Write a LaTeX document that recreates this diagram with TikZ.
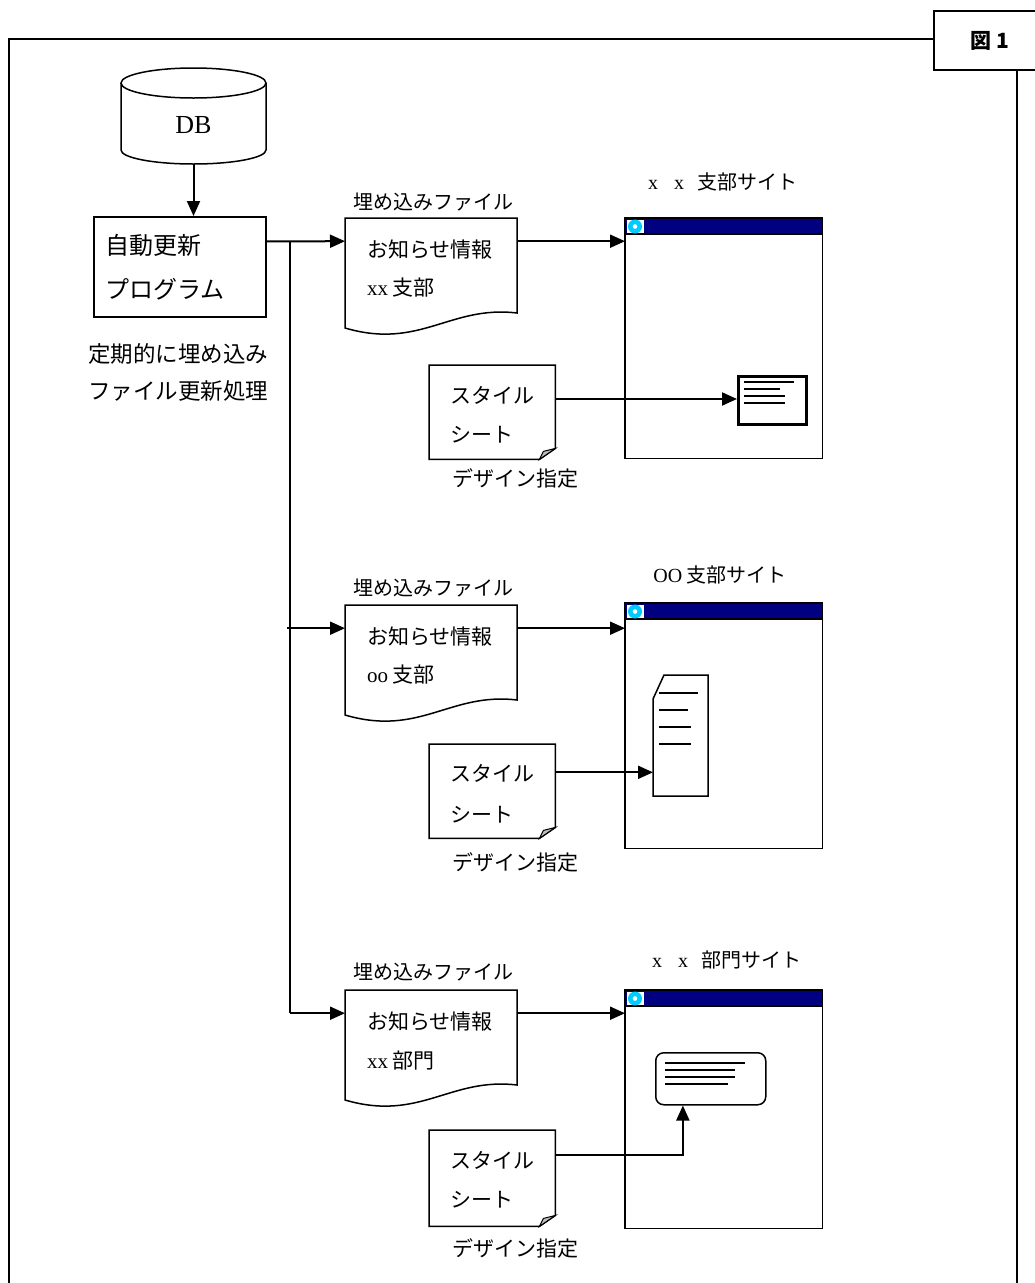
\documentclass[tikz,border=0pt]{standalone}
\usepackage{fontspec}
\setmainfont{Liberation Serif}
\newfontfamily\cjk{Noto Sans CJK JP}
\usetikzlibrary{calc,arrows.meta}
\definecolor{navy}{RGB}{0,0,128}
\definecolor{iconc}{RGB}{0,204,255}
\definecolor{foldc}{RGB}{190,190,190}

\newcommand\browserwin[3]{%
  \node[minimum width=197pt, minimum height=#3, inner sep=0pt, anchor=north west] (#1) at (625,#2) {};
  \fill[navy] (#1.north west) rectangle ($(#1.north east)+(0,-16)$);
  \draw[shp] (#1.north west) rectangle (#1.south east);
  \draw[shp] ($(#1.north west)+(0,-16)$) -- ($(#1.north east)+(0,-16)$);
  \fill[white] ($(#1.north west)+(1.5,-1.5)$) rectangle ($(#1.north west)+(18.5,-15)$);
  \fill[iconc] ($(#1.north west)+(10,-8.5)$) circle (7);
  \fill[white] ($(#1.north west)+(10,-8.5)$) circle (2.3);
}
\newcommand\sheetshape[3]{%
  \node[minimum width=126pt, minimum height=#3, inner sep=0pt, anchor=north west] (#1) at (429,#2) {};
  \draw[shp, fill=white] (#1.north west) -- (#1.north east) -- ($(#1.south east)+(0,11)$)
     -- ($(#1.south east)+(-16,0)$) -- (#1.south west) -- cycle;
  \draw[line width=1pt, fill=foldc] ($(#1.south east)+(0,11)$) -- ($(#1.south east)+(-12,8)$)
     -- ($(#1.south east)+(-16,0)$) -- cycle;
}
\newcommand\docshape[2]{%
  \node[minimum width=172pt, minimum height=46pt, inner sep=0pt, anchor=north west] (#1) at (345,#2) {};
  \draw[shp] (345,#2) -- (517,#2) -- (517,#2-95)
     .. controls (450,#2-87) and (420,#2-132) .. (345,#2-110) -- cycle;
}

\begin{document}
\begin{tikzpicture}[x=1pt,y=1pt,
  shp/.style={line width=1.5pt, draw=black},
  conn/.style={line width=2pt},
  arr/.style={conn, -{Triangle[length=15pt,width=13pt]}},
  jp/.style={font=\cjk\fontsize{21}{25}\selectfont, inner sep=0pt, anchor=west},
  jpc/.style={font=\cjk\fontsize{20}{24}\selectfont, inner sep=0pt},
  jpl/.style={font=\cjk\fontsize{24}{28}\selectfont, inner sep=0pt, anchor=west},
  jpm/.style={font=\cjk\fontsize{22.5}{26}\selectfont, inner sep=0pt, anchor=west},
  content/.style={line width=1.3pt}]
\useasboundingbox (0,0) rectangle (1035,-1283);

% outer frame and figure label
\node[draw, line width=1.5pt, minimum width=106pt, minimum height=59pt, inner sep=0pt, anchor=north west] (fig) at (933,-10) {};
\node[font=\cjk\bfseries\fontsize{21}{23}\selectfont, inner sep=0pt] (figtext) at (990,-41) {図 1};
\coordinate (frTL) at (9,-39);
\coordinate (frBL) at (9,-1283);
\coordinate (frBR) at (1017,-1283);
\draw[shp] (frBL) -- (frTL) -- (frTL -| fig.west);
\draw[shp] (fig.south -| frBR) -- (frBR);

% DB cylinder
\node[minimum width=145pt, minimum height=96pt, inner sep=0pt] (db) at (193.5,-116) {};
\draw[shp] (121,-83) -- (121,-150) arc[start angle=180, end angle=360, x radius=72.5, y radius=14] -- (266,-83);
\draw[shp] (193.5,-83) ellipse[x radius=72.5, y radius=15];
\node[font=\fontsize{26}{29}\selectfont, inner sep=0pt] (dbtext) at (193.5,-125) {DB};

% program box
\node[draw, line width=1.5pt, minimum width=172pt, minimum height=100pt, inner sep=0pt, anchor=north west] (prog) at (93,-216) {};
\node[jpl] (progt1) at (105,-245) {自動更新};
\node[jpl] (progt2) at (105,-289) {プログラム};
\node[jpm] (note1) at (88,-354) {定期的に埋め込み};
\node[jpm] (note2) at (88,-391) {ファイル更新処理};
\draw[arr] (db.south) -- (db.south |- prog.north);

% ---------- section 1 ----------
\node[jpc] (lab1) at (433,-202) {埋め込みファイル};
\docshape{d1}{-218}
\node[jp] (d1t1) at (367,-250) {お知らせ情報};
\node[jp] (d1t2) at (367,-288) {{\rmfamily xx} 支部};
\node[jpc] (blab1) at (720,-182) {{\rmfamily\makebox[20pt]{x}\hspace{6pt}\makebox[20pt]{x}}\hspace{8pt}支部サイト};
\browserwin{b1}{-218}{240pt}
\sheetshape{s1}{-365}{94pt}
\node[jp] (s1t1) at (450,-395) {スタイル};
\node[jp] (s1t2) at (450,-435) {シート};
\node[jp] (s1t3) at (452,-478) {デザイン指定};
\node[draw, line width=2.8pt, minimum width=68pt, minimum height=48pt, inner sep=0pt, anchor=north west] (i1) at (737,-375) {};
\draw[content] (744,-382) -- (794,-382);
\draw[content] (744,-389) -- (780,-389);
\draw[content] (744,-396) -- (785,-396);
\draw[content] (744,-403) -- (785,-403);

% ---------- section 2 ----------
\node[jpc] (lab2) at (433,-588) {埋め込みファイル};
\docshape{d2}{-605}
\node[jp] (d2t1) at (367,-637) {お知らせ情報};
\node[jp] (d2t2) at (367,-675) {{\rmfamily oo} 支部};
\node[jpc] (blab2) at (720,-575) {{\rmfamily OO} 支部サイト};
\browserwin{b2}{-603}{245pt}
\sheetshape{s2}{-744}{94pt}
\node[jp] (s2t1) at (450,-773) {スタイル};
\node[jp] (s2t2) at (450,-815) {シート};
\node[jp] (s2t3) at (452,-862) {デザイン指定};
\node[minimum width=55pt, minimum height=121pt, inner sep=0pt, anchor=north west] (i2) at (653,-675) {};
\draw[shp] (653,-699) -- (664,-675) -- (708,-675) -- (708,-796) -- (653,-796) -- cycle;
\draw[content] (659,-693) -- (698,-693);
\draw[content] (659,-710) -- (688,-710);
\draw[content] (659,-727) -- (691,-727);
\draw[content] (659,-744) -- (691,-744);

% ---------- section 3 ----------
\node[jpc] (lab3) at (433,-972) {埋め込みファイル};
\docshape{d3}{-990}
\node[jp] (d3t1) at (367,-1022) {お知らせ情報};
\node[jp] (d3t2) at (367,-1061) {{\rmfamily xx} 部門};
\node[jpc] (blab3) at (724,-960) {{\rmfamily\makebox[20pt]{x}\hspace{6pt}\makebox[20pt]{x}}\hspace{8pt}部門サイト};
\browserwin{b3}{-990}{238pt}
\sheetshape{s3}{-1130}{96pt}
\node[jp] (s3t1) at (450,-1160) {スタイル};
\node[jp] (s3t2) at (450,-1200) {シート};
\node[jp] (s3t3) at (452,-1248) {デザイン指定};
\node[draw, line width=1.5pt, rounded corners=8pt, minimum width=110pt, minimum height=52pt, inner sep=0pt, anchor=north west] (i3) at (655,-1052) {};
\draw[content] (665,-1063) -- (745,-1063);
\draw[content] (665,-1070) -- (735,-1070);
\draw[content] (665,-1077) -- (735,-1077);
\draw[content] (665,-1084) -- (728,-1084);

% ---------- connectors ----------
\coordinate (pout) at ($(prog.north east)!0.25!(prog.south east)$);
\coordinate (bus) at (290,-241);
\draw[arr] (pout) -- (d1.west);
\draw[conn] (bus) -- (bus |- d3.west);
\draw[arr] ($(bus |- d2.west)+(-3,0)$) -- (d2.west);
\draw[arr] (bus |- d3.west) -- (d3.west);
\draw[arr] (d1.east) -- (d1.east -| b1.west);
\draw[arr] (d2.east) -- (d2.east -| b2.west);
\draw[arr] (d3.east) -- (d3.east -| b3.west);
\coordinate (s1o) at ($(s1.north east)!0.36!(s1.south east)$);
\coordinate (s2o) at ($(s2.north east)!0.30!(s2.south east)$);
\coordinate (s3o) at ($(s3.north east)!0.26!(s3.south east)$);
\draw[arr] (s1o) -- (s1o -| i1.west);
\draw[arr] (s2o) -- (s2o -| i2.west);
\draw[arr] (s3o) -| ($(i3.south west)!0.25!(i3.south east)$);
\end{tikzpicture}
\end{document}
